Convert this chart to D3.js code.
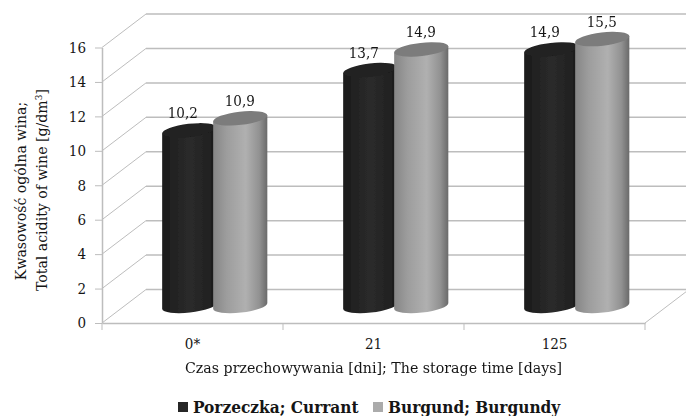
<!DOCTYPE html>
<html><head><meta charset="utf-8">
<script src="https://cdn.jsdelivr.net/npm/d3@7"></script>
<style>html,body{margin:0;padding:0;background:#fff}svg{display:block}text{font-family:"DejaVu Serif Condensed","DejaVu Serif",serif;fill:#151515}</style>
</head><body><svg id="c" width="686" height="416"></svg>
<script>
const categories = ["0*", "21", "125"];
const seriesNames = ["Porzeczka; Currant", "Burgund; Burgundy"];
const porzeczka = [10.2, 13.7, 14.9];
const burgund = [10.9, 14.9, 15.5];
const yTicks = [0, 2, 4, 6, 8, 10, 12, 14, 16];
const yTitle1 = "Kwasowość ogólna wina;";
const yTitle2 = "Total acidity of wine [g/dm";
const xTitle = "Czas przechowywania [dni]; The storage time [days]";

const svg = d3.select("#c");
const W = 686, H = 416;
const x = d3.scaleBand().domain(categories).range([102, 645]);
const y = d3.scaleLinear().domain([0, 16]).range([323, 47.5]);
const series = d3.scalePoint().domain(seriesNames).range([87.25, 138.25]);
const seriesData = [porzeczka, burgund];
const depthX = 44, depthY = 33.5, barLift = 17, rx = 27.25, ry = 6.6, tilt = -6.5;
const gridCol = "#bdbdbd";

const defs = svg.append("defs");
const grads = [
  ["g0", [[0, "#1b1b1b"], [.5, "#2b2b2b"], [.8, "#232323"], [1, "#1c1c1c"]]],
  ["g1", [[0, "#868686"], [.25, "#9d9d9d"], [.6, "#b0b0b0"], [.85, "#929292"], [1, "#6a6a6a"]]]
];
grads.forEach(([id, stops]) => {
  const g = defs.append("linearGradient").attr("id", id);
  stops.forEach(s => g.append("stop").attr("offset", s[0]).attr("stop-color", s[1]));
});
defs.append("filter").attr("id", "soft").append("feGaussianBlur").attr("stdDeviation", .45);
const capCols = ["#202020", "#7b7b7b"];
const swatchCols = ["#262626", "#ababab"];

// walls: back gridlines + side diagonals
const grid = svg.append("g").attr("fill", "none").attr("stroke", gridCol);
grid.selectAll(".h").data(yTicks).join("line")
  .attr("x1", 102 + depthX).attr("x2", W)
  .attr("y1", d => y(d) - depthY).attr("y2", d => y(d) - depthY).attr("stroke-width", 1.5);
grid.selectAll(".d").data(yTicks).join("line")
  .attr("x1", 102).attr("x2", 102 + depthX)
  .attr("y1", d => y(d)).attr("y2", d => y(d) - depthY);
grid.append("line").attr("x1", 645).attr("x2", 645 + depthX).attr("y1", y(0)).attr("y2", y(0) - depthY);

// axes
const axL = svg.append("g").attr("transform", "translate(102,0)")
  .call(d3.axisLeft(y).tickValues(yTicks).tickSize(7).tickSizeOuter(0).tickPadding(9));
const axB = svg.append("g").attr("transform", `translate(0,${y(0)})`)
  .call(d3.axisBottom(x).tickSize(0).tickPadding(15));
svg.append("g").selectAll("line").data(categories.map(c => x(c)).concat([x.range()[1]])).join("line")
  .attr("x1", d => d).attr("x2", d => d).attr("y1", y(0)).attr("y2", y(0) + 7).attr("stroke", gridCol);
[axL, axB].forEach(a => {
  a.selectAll("path,line").attr("stroke", gridCol);
  a.selectAll("path").attr("stroke-width", 1.5);
  a.selectAll("text").attr("font-size", 15).attr("fill", "#151515").attr("font-family", '"DejaVu Serif Condensed","DejaVu Serif",serif');
});

// cylinders
const rad = tilt * Math.PI / 180, ex = rx * Math.cos(rad), ey = rx * Math.sin(rad);
const bars = svg.append("g").attr("filter", "url(#soft)");
const base = y(0) - barLift;
seriesNames.forEach((s, si) => {
  categories.forEach((c, ci) => {
    const cx = x(c) + series(s), v = seriesData[si][ci], ty = y(v) - barLift;
    bars.append("path")
      .attr("d", `M${cx - ex},${ty - ey}L${cx - ex},${base - ey}A${rx},${ry} ${tilt} 0 0 ${cx + ex},${base + ey}L${cx + ex},${ty + ey}Z`)
      .attr("fill", `url(#g${si})`);
    bars.append("ellipse").attr("cx", cx).attr("cy", ty).attr("rx", rx).attr("ry", ry)
      .attr("transform", `rotate(${tilt} ${cx} ${ty})`).attr("fill", capCols[si]);
  });
});

// data labels
const fmt = v => d3.format(".1f")(v).replace(".", ",");
const nudge = [-6.5, -0.5];
seriesNames.forEach((s, si) => {
  svg.append("g").selectAll("text").data(seriesData[si]).join("text")
    .attr("x", (d, i) => x(categories[i]) + series(s) + nudge[si])
    .attr("y", d => y(d) - barLift - 12.5)
    .attr("text-anchor", "middle").attr("font-size", 15).text(fmt);
});

// titles
svg.append("text").attr("x", 373.5).attr("y", 373).attr("text-anchor", "middle")
  .attr("font-size", 14).attr("textLength", 377).attr("lengthAdjust", "spacingAndGlyphs").text(xTitle);
svg.append("text").attr("transform", "translate(26,191) rotate(-90)").attr("text-anchor", "middle")
  .attr("font-size", 15.7).text(yTitle1);
const t2 = svg.append("text").attr("transform", "translate(47,190) rotate(-90)").attr("text-anchor", "middle")
  .attr("font-size", 15.7).text(yTitle2);
t2.append("tspan").attr("dy", -5).attr("font-size", 10).text("3");
t2.append("tspan").attr("dy", 5).text("]");

// legend
const legendX = [[178, 193], [373, 388]];
seriesNames.forEach((s, i) => {
  svg.append("rect").attr("x", legendX[i][0]).attr("y", 402).attr("width", 10).attr("height", 10).attr("fill", swatchCols[i]);
  svg.append("text").attr("x", legendX[i][1]).attr("y", 413).attr("font-size", 17.1).attr("font-weight", "bold").text(s);
});
</script></body></html>
